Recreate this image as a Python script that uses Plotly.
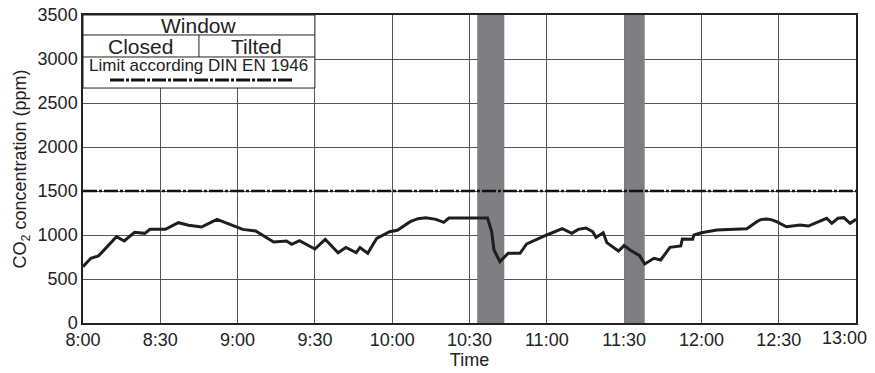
import plotly.graph_objects as go

# ---- data ----
minutes_after_8 = [0, 3, 6, 13, 16, 20, 24, 26, 32, 37, 41, 46, 52, 56, 62, 67, 74, 79, 81, 84,
                   90, 94, 99, 102, 106, 107.5, 110.5, 114, 119, 122, 127, 130, 133, 137, 140, 142,
                   157, 158.6, 159.5, 161.8, 165, 169.6, 172.2, 180, 186, 189.7, 192.2, 195.2, 197.8,
                   199.1, 201.9, 203.3, 207.8, 210, 212.3, 216, 218, 221.6, 224.2, 227.8, 232, 232.6,
                   236.6, 237.1, 240, 246, 252, 257.6, 261.5, 263, 265.3, 267, 269.2, 273, 278.3,
                   281.5, 288.6, 290.6, 293, 295.3, 297.7, 300]
co2_ppm = [640, 735, 761, 981, 932, 1030, 1019, 1064, 1064, 1140, 1110, 1091, 1178, 1133, 1064, 1045,
           920, 932, 894, 935, 841, 951, 799, 858, 799, 858, 792, 962, 1038, 1053, 1151, 1185, 1197,
           1178, 1144, 1193, 1193, 1038, 830, 697, 792, 792, 898, 1000, 1072, 1019, 1064, 1080, 1038,
           974, 1026, 913, 818, 880, 830, 765, 670, 735, 716, 860, 875, 954, 951, 1000, 1026, 1057,
           1068, 1072, 1151, 1175, 1182, 1175, 1151, 1094, 1114, 1102, 1190, 1133, 1190, 1197, 1133,
           1178]
limit_ppm = 1500
window_open_start = [153, 210]
window_open_end = [163.5, 218]
tick_labels = ["8:00", "8:30", "9:00", "9:30", "10:00", "10:30", "11:00", "11:30", "12:00", "12:30", "13:00"]


def to_min(label):
    h, m = label.split(":")
    return (int(h) - 8) * 60 + int(m)


tick_vals = [to_min(l) for l in tick_labels]
LIMIT_DASH = "14px,2px,3px,2px"
FONT = "Liberation Sans, Arial, sans-serif"

fig = go.Figure()

# window open periods
for s, e in zip(window_open_start, window_open_end):
    fig.add_shape(type="rect", x0=s, x1=e, y0=0, y1=3500, xref="x", yref="y",
                  fillcolor="#7e7e83", line_width=0, layer="between")

# limit line
fig.add_trace(go.Scatter(x=[tick_vals[0], tick_vals[-1]], y=[limit_ppm, limit_ppm], mode="lines",
                         line=dict(color="#111", width=2.5, dash=LIMIT_DASH), hoverinfo="skip"))
# CO2
fig.add_trace(go.Scatter(x=minutes_after_8, y=co2_ppm, mode="lines",
                         line=dict(color="#1e1e1e", width=3)))

# legend table box
box_x0, box_x1, box_xmid = 0, 90, 45
box_y = [3500, 3273, 3023, 2670]
fig.add_shape(type="rect", x0=box_x0, x1=box_x1, y0=box_y[3], y1=box_y[0], xref="x", yref="y",
              fillcolor="white", line=dict(color="#222", width=1), layer="above")
for yy in box_y[1:3]:
    fig.add_shape(type="line", x0=box_x0, x1=box_x1, y0=yy, y1=yy, xref="x", yref="y",
                  line=dict(color="#222", width=1), layer="above")
fig.add_shape(type="line", x0=box_xmid, x1=box_xmid, y0=box_y[2], y1=box_y[1], xref="x", yref="y",
              line=dict(color="#222", width=1), layer="above")
fig.add_shape(type="line", x0=10.5, x1=81.5, y0=2761, y1=2761, xref="x", yref="y",
              line=dict(color="#111", width=3, dash=LIMIT_DASH), layer="above")

ann_font = dict(family=FONT, size=21, color="#222")
fig.add_annotation(x=45, y=3386, text="Window", showarrow=False, xref="x", yref="y", font=ann_font)
fig.add_annotation(x=22.5, y=3147, text="Closed", showarrow=False, xref="x", yref="y", font=ann_font)
fig.add_annotation(x=67.5, y=3147, text="Tilted", showarrow=False, xref="x", yref="y", font=ann_font)
fig.add_annotation(x=45, y=2925, text="Limit according DIN EN 1946", showarrow=False, xref="x", yref="y",
                   font=dict(family=FONT, size=17, color="#222"))

# last tick label shifted left so it fits inside the page (as in the reference)
ticktext = tick_labels[:-1] + [""]
fig.add_annotation(x=tick_vals[-1], y=0, xref="x", yref="paper", text=tick_labels[-1],
                   showarrow=False, xanchor="right", yanchor="top", xshift=13, yshift=-3,
                   font=dict(family=FONT, size=18, color="#222"))

# page body has an 8px margin: figure is sized/offset to compensate
fig.update_layout(
    width=867, height=365,
    margin=dict(l=75, r=19, t=7, b=50),
    plot_bgcolor="white", paper_bgcolor="white",
    showlegend=False,
    font=dict(family=FONT, size=18, color="#222"),
    xaxis=dict(range=[0, 300], tickvals=tick_vals, ticktext=ticktext, automargin=False,
               showgrid=True, gridcolor="#555", gridwidth=1,
               showline=True, linecolor="#222", linewidth=1.5, mirror=True,
               ticks="", zeroline=False,
               title=dict(text="Time", font=dict(size=18), standoff=4)),
    yaxis=dict(range=[0, 3500], dtick=500, automargin=False, ticklabeloverflow="allow",
               showgrid=True, gridcolor="#555", gridwidth=1,
               showline=True, linecolor="#222", linewidth=1.5, mirror=True,
               ticks="", zeroline=False,
               title=dict(text="CO<sub>2</sub> concentration (ppm)", font=dict(size=18), standoff=6)),
)

fig.write_html("out.html")
